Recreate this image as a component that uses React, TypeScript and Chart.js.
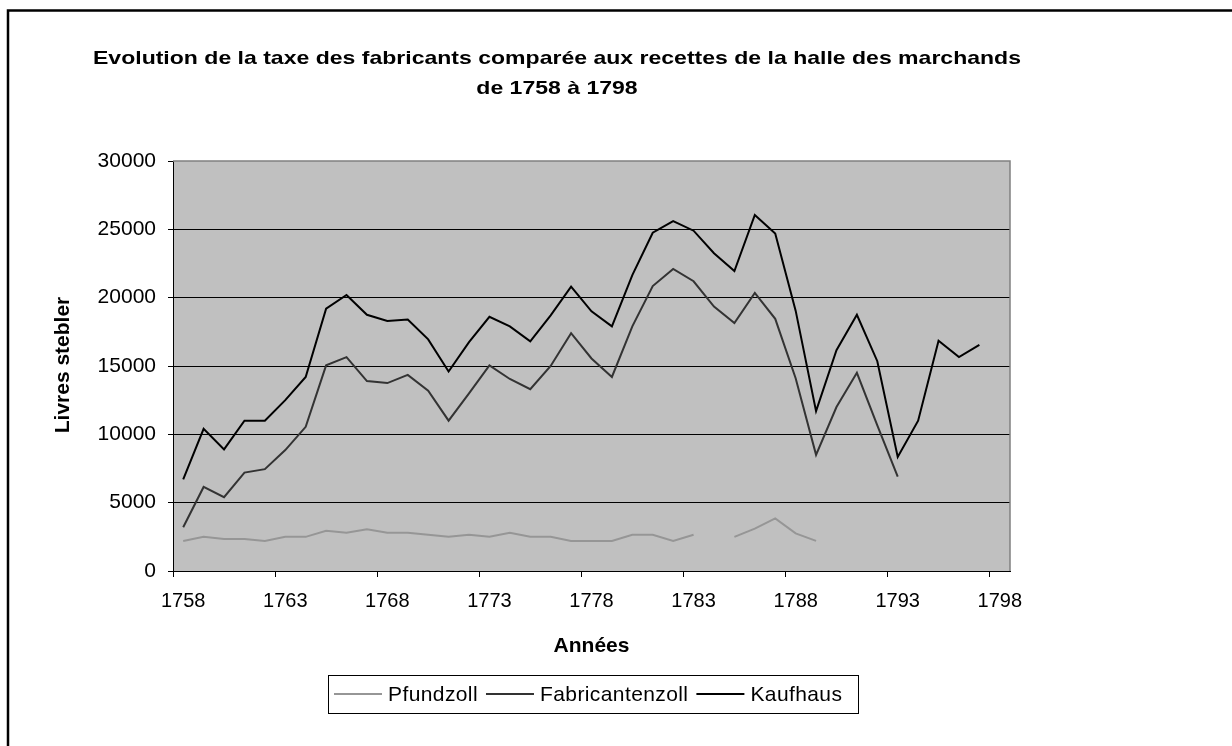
import { useEffect, useRef } from "react";
import { Chart, registerables } from "chart.js";

Chart.register(...registerables);

const years = [
  "1758", "1759", "1760", "1761", "1762", "1763", "1764", "1765", "1766", "1767",
  "1768", "1769", "1770", "1771", "1772", "1773", "1774", "1775", "1776", "1777",
  "1778", "1779", "1780", "1781", "1782", "1783", "1784", "1785", "1786", "1787",
  "1788", "1789", "1790", "1791", "1792", "1793", "1794", "1795", "1796", "1797",
  "1798",
];

const tickLabels = ["1758", "1763", "1768", "1773", "1778", "1783", "1788", "1793", "1798"];

const pfundzoll = [
  2200, 2500, 2350, 2350, 2200, 2500, 2500, 2950, 2800, 3050,
  2800, 2800, 2650, 2500, 2650, 2500, 2800, 2500, 2500, 2200,
  2200, 2200, 2650, 2650, 2200, 2650, null, 2500, 3100, 3850,
  2750, 2200, null, null, null, null, null, null, null, null,
  null,
];

const fabricantenzoll = [
  3200, 6150, 5400, 7200, 7450, 8850, 10550, 15050, 15650, 13900,
  13750, 14350, 13200, 11000, 13000, 15050, 14050, 13300, 15000, 17400,
  15550, 14200, 17900, 20850, 22100, 21200, 19350, 18150, 20350, 18450,
  14100, 8500, 12000, 14500, 10650, 6900, null, null, null, null,
  null,
];

const kaufhaus = [
  6700, 10400, 8900, 11000, 11000, 12500, 14200, 19200, 20200, 18750,
  18300, 18400, 16950, 14600, 16750, 18600, 17900, 16800, 18700, 20800,
  19000, 17900, 21650, 24750, 25600, 24900, 23250, 21950, 26050, 24700,
  19050, 11700, 16150, 18750, 15350, 8350, 11000, 16850, 15650, 16550,
  null,
];

const seriesNames = ["Pfundzoll", "Fabricantenzoll", "Kaufhaus"];
const seriesColors = ["#969696", "#333333", "#000000"];

const titleLines = [
  "Evolution de la taxe des fabricants comparée aux recettes de la halle des marchands",
  "de 1758 à 1798",
];
const xTitle = "Années";
const yTitle = "Livres stebler";

const FONT = '"Liberation Sans", Arial, Helvetica, sans-serif';
const W = 1232;
const H = 746;

const decorPlugin = {
  id: "decor",
  beforeDraw(chart: any) {
    const { ctx, chartArea: a } = chart;
    ctx.save();
    ctx.fillStyle = "#ffffff";
    ctx.fillRect(0, 0, chart.width, chart.height);
    ctx.fillStyle = "#C0C0C0";
    ctx.fillRect(a.left, a.top, a.right - a.left, a.bottom - a.top);
    ctx.restore();
  },
  afterDraw(chart: any) {
    const { ctx, chartArea: a } = chart;
    ctx.save();
    // plot frame top/right (gray)
    ctx.strokeStyle = "#808080";
    ctx.lineWidth = 1.5;
    ctx.beginPath();
    ctx.moveTo(a.left, a.top);
    ctx.lineTo(a.right, a.top);
    ctx.lineTo(a.right, a.bottom);
    ctx.stroke();

    // outer frame
    ctx.strokeStyle = "#000";
    ctx.lineWidth = 2.5;
    ctx.strokeRect(8, 10.5, 1400, 900);

    // title
    ctx.fillStyle = "#000";
    ctx.font = `bold 19px ${FONT}`;
    ctx.textAlign = "center";
    ctx.textBaseline = "middle";
    const w1 = ctx.measureText(titleLines[0]).width;
    const sx = 928 / w1;
    const cx = 557;
    [59, 89].forEach((yy, i) => {
      ctx.save();
      ctx.translate(cx, yy);
      ctx.scale(sx, 1);
      ctx.fillText(titleLines[i], 0, 0);
      ctx.restore();
    });

    // x title
    ctx.font = `bold 21px ${FONT}`;
    ctx.fillText(xTitle, (a.left + a.right) / 2, 646);

    // y title
    ctx.save();
    ctx.translate(63, 365);
    ctx.rotate(-Math.PI / 2);
    ctx.fillText(yTitle, 0, 0);
    ctx.restore();

    // legend
    const ly = 694;
    ctx.strokeStyle = "#000";
    ctx.lineWidth = 1;
    ctx.strokeRect(328.5, 675.5, 530, 38);
    ctx.font = `21px ${FONT}`;
    try {
      (ctx as any).letterSpacing = "0.4px";
    } catch (e) {}
    ctx.textAlign = "left";
    let x = 334;
    chart.data.datasets.forEach((d: any) => {
      ctx.strokeStyle = d.borderColor;
      ctx.lineWidth = 2;
      ctx.beginPath();
      ctx.moveTo(x, ly);
      ctx.lineTo(x + 48, ly);
      ctx.stroke();
      ctx.fillStyle = "#000";
      ctx.fillText(d.label, x + 54, ly + 1);
      x = x + 54 + ctx.measureText(d.label).width + 8;
    });
    ctx.restore();
  },
};

export default function App() {
  const ref = useRef<HTMLCanvasElement>(null);

  useEffect(() => {
    if (!ref.current) return;
    const datasets = [pfundzoll, fabricantenzoll, kaufhaus].map((data, i) => ({
      label: seriesNames[i],
      data,
      borderColor: seriesColors[i],
      backgroundColor: seriesColors[i],
      borderWidth: 2,
      pointRadius: 0,
      tension: 0,
      spanGaps: false,
      fill: false,
    }));

    const chart = new Chart(ref.current, {
      type: "line",
      data: { labels: years, datasets },
      options: {
        responsive: false,
        animation: false,
        devicePixelRatio: 1,
        layout: { padding: { top: 161, right: 222, bottom: 130, left: 0 } },
        plugins: {
          legend: { display: false },
          title: { display: false },
          tooltip: { enabled: false },
        },
        scales: {
          x: {
            type: "category",
            offset: true,
            grid: {
              offset: true,
              drawOnChartArea: false,
              tickLength: 6,
              lineWidth: 1,
              color: (c: any) => (c.index !== undefined && c.index % 5 === 0 ? "#000" : "rgba(0,0,0,0)"),
            },
            border: { display: true, color: "#000", width: 1 },
            ticks: {
              autoSkip: false,
              maxRotation: 0,
              minRotation: 0,
              color: "#000",
              padding: 12,
              font: { family: FONT, size: 20 },
              callback: function (this: any, v: any) {
                const l = this.getLabelForValue(v);
                return tickLabels.includes(l) ? l : "";
              },
            },
            afterFit: (s: any) => {
              s.height = 45;
            },
          },
          y: {
            min: 0,
            max: 30000,
            grid: {
              lineWidth: 1,
              tickLength: 5,
              color: (c: any) => (c.tick && c.tick.value === 30000 ? "rgba(0,0,0,0)" : "#000"),
              tickColor: "#000",
            },
            border: { display: true, color: "#000", width: 1 },
            ticks: {
              stepSize: 5000,
              color: "#000",
              padding: 12,
              font: { family: FONT, size: 21 },
              callback: (v: any) => String(v),
            },
            afterFit: (s: any) => {
              s.width = 173;
            },
          },
        },
      },
      plugins: [decorPlugin],
    });
    return () => chart.destroy();
  }, []);

  return (
    <canvas
      ref={ref}
      width={W}
      height={H}
      style={{ position: "fixed", left: 0, top: 0, width: W, height: H }}
    />
  );
}
